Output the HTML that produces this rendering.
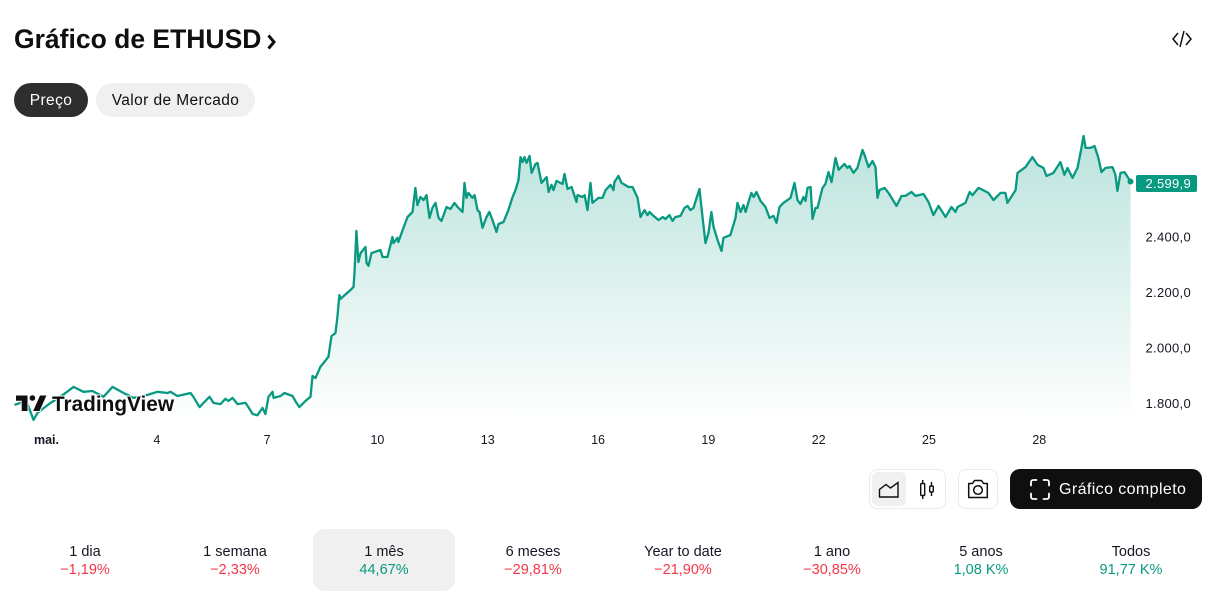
<!DOCTYPE html>
<html lang="pt">
<head>
<meta charset="utf-8">
<title>Gráfico de ETHUSD</title>
<style>
html,body{margin:0;padding:0;background:#fff;}
body{width:1220px;height:600px;overflow:hidden;position:relative;font-family:"Liberation Sans",sans-serif;color:#0f0f0f;}
.abs{position:absolute;white-space:nowrap;}
#title{left:14px;top:22px;font-size:26.5px;line-height:34px;font-weight:700;}
.pill{top:83px;height:34px;line-height:36px;border-radius:17px;text-align:center;font-size:15.5px;letter-spacing:.4px;}
.box{top:469px;height:38px;border:1px solid #ebebeb;border-radius:8px;background:#fff;box-sizing:content-box;}
.period{top:529px;width:142px;height:62px;border-radius:12px;text-align:center;}
.period .l{position:absolute;left:0;right:0;top:14px;font-size:14.5px;line-height:18px;color:#131722;}
.period .v{position:absolute;left:0;right:0;top:32px;font-size:14.5px;line-height:18px;}
.neg{color:#f23645;}.pos{color:#089981;}
svg{position:absolute;left:0;top:0;}
</style>
</head>
<body>

<div id="title" class="abs">Gráfico de ETHUSD</div>
<svg width="1220" height="600" style="pointer-events:none">
  <polyline points="268.5,35.5 274,42 268.5,48.5" fill="none" stroke="#0f0f0f" stroke-width="3"/>
  <g fill="none" stroke="#0f0f0f" stroke-width="1.5">
    <polyline points="1178,33 1173,39 1178,45"/>
    <polyline points="1186,33 1191,39 1186,45"/>
    <line x1="1184" y1="31" x2="1180" y2="47"/>
  </g>
</svg>

<div class="abs pill" style="left:14px;width:74px;background:#2e2e2e;color:#fff;">Preço</div>
<div class="abs pill" style="left:96px;width:159px;background:#f0f0f0;color:#0f0f0f;">Valor de Mercado</div>

<svg id="chart" width="1220" height="460"></svg>

<svg width="1220" height="460">
  <g fill="#0f0f0f" stroke="#fff" stroke-width="2" paint-order="stroke">
    <path d="M16 395.5H27.5V411H21.7V400.8H16Z"/>
    <circle cx="32.4" cy="398" r="2.8"/>
    <path d="M40 395.5H46.4L39.6 411H33.2Z"/>
  </g>
  <text x="52" y="411" font-family="'Liberation Sans',sans-serif" font-size="21" font-weight="700" fill="#0f0f0f" stroke="#fff" stroke-width="2" paint-order="stroke" textLength="122" lengthAdjust="spacingAndGlyphs">TradingView</text>
</svg>

<div class="abs box" style="left:869px;width:75px;"></div>
<div class="abs" style="left:872px;top:472px;width:34px;height:34px;border-radius:6px;background:#f0f0f0;"></div>
<div class="abs box" style="left:958px;width:38px;"></div>
<div class="abs" style="left:1010px;top:469px;width:192px;height:40px;border-radius:10px;background:#0f0f0f;"></div>
<div class="abs" style="left:1059px;top:470px;font-size:16px;letter-spacing:.4px;line-height:40px;color:#fff;">Gráfico completo</div>

<svg width="1220" height="600" style="pointer-events:none">
  <path d="M879.5 497V489.5L886 484.5L890.5 488L898 482.5V497H879.5Z" fill="none" stroke="#0f0f0f" stroke-width="1.4"/>
  <g fill="none" stroke="#0f0f0f" stroke-width="1.4">
    <rect x="920.7" y="483.5" width="4" height="12" rx="1"/>
    <line x1="922.7" y1="480" x2="922.7" y2="483.5"/>
    <line x1="922.7" y1="495.5" x2="922.7" y2="499"/>
    <rect x="929.7" y="486" width="3.6" height="6" rx="1"/>
    <line x1="931.5" y1="482" x2="931.5" y2="486"/>
    <line x1="931.5" y1="492" x2="931.5" y2="496"/>
  </g>
  <g fill="none" stroke="#0f0f0f" stroke-width="1.5">
    <path d="M968.7 483.5H972.5L974.5 480.5H981.5L983.5 483.5H987.3V497.5H968.7Z" stroke-linejoin="round"/>
    <circle cx="978" cy="490" r="4.3"/>
  </g>
  <g fill="none" stroke="#fff" stroke-width="1.8" stroke-linecap="round">
    <path d="M1031 485.5V482.5Q1031 480 1033.5 480H1036.5"/>
    <path d="M1043.5 480H1046.5Q1049 480 1049 482.5V485.5"/>
    <path d="M1049 493.5V496.5Q1049 499 1046.5 499H1043.5"/>
    <path d="M1036.5 499H1033.5Q1031 499 1031 496.5V493.5"/>
  </g>
</svg>

<div class="abs period" style="left:14px;"><div class="l">1 dia</div><div class="v neg">−1,19%</div></div>
<div class="abs period" style="left:164px;"><div class="l">1 semana</div><div class="v neg">−2,33%</div></div>
<div class="abs period" style="left:313px;background:#f0f0f0;"><div class="l">1 mês</div><div class="v pos">44,67%</div></div>
<div class="abs period" style="left:462px;"><div class="l">6 meses</div><div class="v neg">−29,81%</div></div>
<div class="abs period" style="left:612px;"><div class="l">Year to date</div><div class="v neg">−21,90%</div></div>
<div class="abs period" style="left:761px;"><div class="l">1 ano</div><div class="v neg">−30,85%</div></div>
<div class="abs period" style="left:910px;"><div class="l">5 anos</div><div class="v pos">1,08 K%</div></div>
<div class="abs period" style="left:1060px;"><div class="l">Todos</div><div class="v pos">91,77 K%</div></div>

<script>
// Hours since 1 May 00:00
const hours = [-20.9,-17,-13.1,-8.5,-5.9,2.6,5.9,12.4,17.6,24.1,30,37.2,43.1,50.3,56.8,65.9,72.4,79,80.9,85.5,94,95.9,99.9,102.5,106.4,109,113.6,116.8,118.8,121.4,124.7,129.9,131.8,134.5,137.7,141,142.9,144.9,147.5,148.2,152.7,155.3,160.6,163.2,165.1,169,172.3,173.6,175.6,178.8,184,186,188.6,189.9,191.2,191.9,198.4,200.4,201,202.3,203.6,205,208.2,208.9,210.2,212.1,218,219.3,222.6,225.8,226.5,229.1,229.7,232.4,235.6,238.9,240.8,242.1,244.1,246.1,248,250,251.9,253.9,255.9,257.8,261.1,263.7,266.3,268.3,271.5,272.8,274.1,275.4,278,279.4,281.3,282.6,284.6,287.2,289.1,291.1,293.7,295,298.3,301.5,304.2,306.1,308.1,309.4,310.7,312,313.3,315.3,316.6,319.2,320.5,323.1,326.4,327.7,329.6,330.9,332.9,336.8,338.1,340.1,342.7,345.9,346.6,349.8,351.2,353.1,355.1,356.4,360.3,362.9,364.9,368.1,370.1,370.7,373.3,375.3,379.9,382.5,385.8,387.7,390.3,392.3,393.6,396.2,399.5,402.1,404,406.6,408.6,410.5,413.8,416.4,418.4,420.3,422.3,424.3,426.2,428.2,430.1,432.1,434,435.4,438,440.6,441.9,446.4,449.7,451,453,454.9,456.3,458.2,460.1,461.5,463.4,466,469.3,471.9,474.5,476.5,478.4,481,485.6,488.2,490.2,492.1,494.1,495.4,496.7,498.7,500,501.9,503.2,506.5,508.4,510.4,512.4,515,517,520.8,522.8,524.1,526.7,529.3,532.6,533.9,536.5,539.1,541.1,542.4,543.7,547,549.6,554.8,558.1,560.7,564.6,567.2,572.4,575.7,578.9,582.2,586.8,590.7,593.3,594.6,599.8,602.5,604.4,608.3,614.8,618.1,622.7,625.9,627.2,632.5,633.8,639,643.5,646.8,650.7,652.7,657.2,661.8,664.4,666.4,669.7,672.9,674.9,676.9,678.2,681.4,684,686.6,688.6,691.2,695.8,697.7,699,701,703.6,707.5];
const prices = [1795,1802,1809,1741,1766,1802,1813,1838,1860,1842,1845,1824,1860,1838,1820,1831,1842,1838,1842,1827,1838,1824,1787,1802,1824,1802,1798,1817,1809,1820,1798,1802,1787,1762,1758,1784,1762,1824,1842,1820,1827,1838,1827,1802,1787,1809,1824,1899,1892,1932,1968,2043,2054,2112,2191,2177,2209,2220,2270,2422,2310,2342,2364,2306,2296,2342,2353,2328,2328,2400,2378,2397,2382,2425,2472,2490,2577,2515,2544,2533,2551,2469,2505,2523,2469,2458,2508,2501,2523,2508,2490,2595,2541,2559,2541,2551,2497,2490,2433,2472,2490,2461,2418,2447,2454,2497,2544,2569,2605,2688,2670,2688,2667,2692,2631,2663,2667,2595,2616,2562,2588,2569,2602,2591,2627,2573,2580,2526,2551,2544,2551,2497,2595,2523,2541,2541,2569,2588,2569,2598,2620,2595,2580,2580,2541,2472,2497,2479,2490,2476,2461,2472,2465,2479,2458,2472,2476,2505,2512,2497,2505,2541,2573,2472,2378,2415,2490,2436,2389,2350,2397,2407,2469,2523,2490,2515,2490,2526,2559,2544,2562,2530,2508,2469,2476,2451,2508,2523,2541,2595,2533,2519,2544,2530,2577,2580,2465,2505,2505,2577,2591,2634,2598,2685,2642,2663,2649,2656,2631,2649,2714,2696,2652,2674,2652,2541,2569,2577,2559,2512,2548,2548,2562,2548,2555,2526,2479,2512,2472,2508,2490,2508,2523,2562,2551,2577,2559,2533,2559,2559,2523,2569,2631,2652,2688,2660,2649,2620,2631,2670,2624,2649,2613,2649,2703,2764,2721,2721,2728,2685,2634,2649,2652,2624,2566,2631,2634,2599.9];
const priceTicks = [2400, 2200, 2000, 1800];
const timeTickHours = [0, 72, 144, 216, 288, 360, 432, 504, 576, 648];
const timeTickLabels = ['mai.', '4', '7', '10', '13', '16', '19', '22', '25', '28'];

const xScale = h => 46.5 + h * 1.5321;
const yScale = p => 403.5 - (p - 1800) * 0.2775;
const PLOT_BOTTOM = 423;
const NS = 'http://www.w3.org/2000/svg';
const chart = document.getElementById('chart');
const fmt = v => {
  const s = v.toFixed(1).replace('.', ',');
  return s.replace(/^(\d)(\d{3})/, '$1.$2');
};
function mk(tag, attrs, parent) {
  const el = document.createElementNS(NS, tag);
  for (const k in attrs) el.setAttribute(k, attrs[k]);
  parent.appendChild(el);
  return el;
}

const defs = mk('defs', {}, chart);
const grad = mk('linearGradient', {id: 'areaGrad', gradientUnits: 'userSpaceOnUse', x1: 0, y1: 130, x2: 0, y2: PLOT_BOTTOM}, defs);
mk('stop', {offset: 0, 'stop-color': '#089981', 'stop-opacity': 0.28}, grad);
mk('stop', {offset: 1, 'stop-color': '#089981', 'stop-opacity': 0}, grad);

const pts = hours.map((h, i) => xScale(h).toFixed(1) + ',' + yScale(prices[i]).toFixed(1));
const lastX = xScale(hours[hours.length - 1]);
const lastY = yScale(prices[prices.length - 1]);

const area = mk('polygon', {points: xScale(hours[0]).toFixed(1) + ',' + PLOT_BOTTOM + ' ' + pts.join(' ') + ' ' + lastX.toFixed(1) + ',' + PLOT_BOTTOM, fill: 'url(#areaGrad)'}, chart);



const line = mk('polyline', {points: pts.join(' '), fill: 'none', stroke: '#089981', 'stroke-width': 2.3, 'stroke-linejoin': 'round'}, chart);



const dot = mk('circle', {cx: lastX, cy: lastY, r: 3, fill: '#089981'}, chart);



const lastTag = mk('rect', {x: 1136, y: lastY - 6.5, width: 61, height: 17, rx: 2, fill: '#089981'}, chart);



const lastText = mk('text', {x: 1191, y: lastY + 6.5, 'text-anchor': 'end', 'font-size': 13, 'letter-spacing': 0.3, fill: '#fff', 'font-family': '"Liberation Sans",sans-serif'}, chart);
lastText.textContent = fmt(prices[prices.length - 1]);



priceTicks.forEach(p => {
  const t = mk('text', {x: 1191, y: yScale(p) + 4.5, 'text-anchor': 'end', 'font-size': 13, 'letter-spacing': 0.3, fill: '#131722', 'font-family': '"Liberation Sans",sans-serif'}, chart);
  t.textContent = fmt(p);
  
  
});

timeTickHours.forEach((h, i) => {
  const t = mk('text', {x: xScale(h), y: 444, 'text-anchor': 'middle', 'font-size': 12.5, fill: '#131722', 'font-family': '"Liberation Sans",sans-serif', 'font-weight': i === 0 ? 700 : 400}, chart);
  t.textContent = timeTickLabels[i];
  
  
});
</script>
</body>
</html>
